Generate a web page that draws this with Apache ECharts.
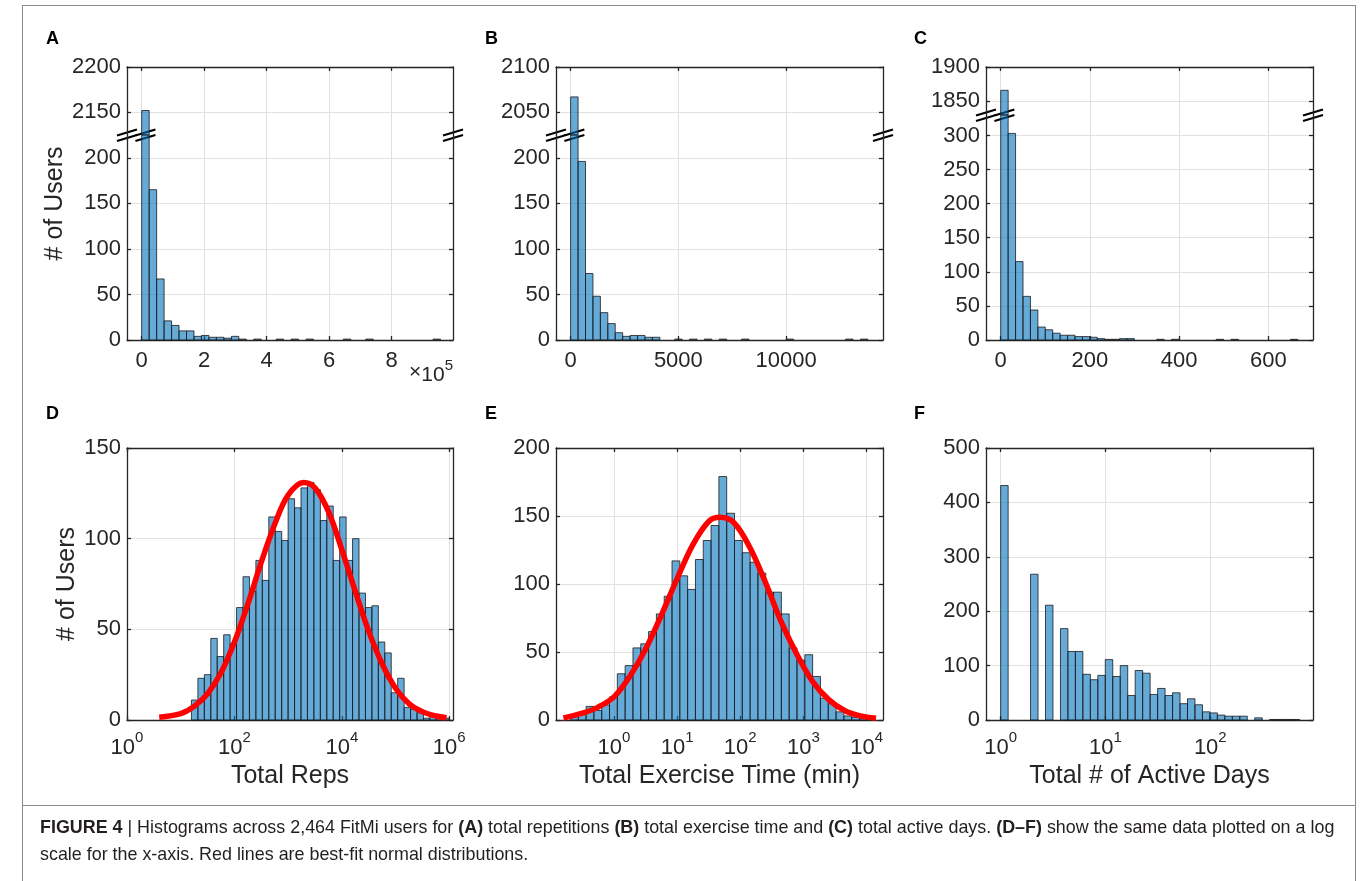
<!DOCTYPE html>
<html lang="en">
<head>
<meta charset="UTF-8">
<script src="https://cdn.jsdelivr.net/npm/echarts@6/dist/echarts.min.js"></script>
<style>
  body{margin:0;background:#fff;}
  #main{position:absolute;left:0;top:0;width:1360px;height:881px;}
  #frame{position:absolute;left:22px;top:5px;width:1332px;height:900px;border:1px solid #8a8a8a;border-bottom:none;}
  #sep{position:absolute;left:22px;top:805px;width:1334px;height:0;border-top:1px solid #8a8a8a;}
  #caption{position:absolute;left:40px;top:814px;font-family:'Liberation Sans',Arial,sans-serif;font-size:17.9px;line-height:27px;color:#231f20;white-space:nowrap;}
</style>
</head>
<body>
<div id="frame"></div>
<div id="sep"></div>
<div id="main"></div>
<div id="caption"><b>FIGURE 4</b> | Histograms across 2,464 FitMi users for <b>(A)</b> total repetitions <b>(B)</b> total exercise time and <b>(C)</b> total active days. <b>(D–F)</b> show the same data plotted on a log<br>scale for the x-axis. Red lines are best-fit normal distributions.</div>

<script>
  // ---- data ----
  // top row: linear bins starting at 0
  var repsBinWidth = 23900;
  var repsCounts = [2152,165,67,21,16,10,10,4,5,3,3,2,4,1,0,1,0,0,1,0,1,0,1,0,0,0,0,1,0,0,1,0,0,0,0,0,0,0,0,1];
  var timeBinWidth = 345;
  var timeCounts = [2067,196,73,48,30,18,8,4,5,5,3,3,0,0,1,0,1,0,1,0,1,0,0,1,0,0,0,0,0,1,0,0,0,0,0,0,0,1,0,1];
  var daysBinWidth = 16.65;
  var daysCounts = [1866,303,115,64,44,19,15,10,7,7,5,5,4,2,1,1,2,2,0,0,0,1,0,1,0,0,0,0,0,1,0,1,0,0,0,0,0,0,0,1];

  // bottom row: bins in log10 units
  var repsLogStart = 1.2, repsLogStep = 0.12;
  var repsLogCounts = [11,23,25,45,35,47,42,62,79,71,88,77,112,104,99,122,117,128,131,127,110,118,88,112,88,100,70,62,63,43,37,15,23,7,6,4,1,2,1,1];
  var timeLogStart = -0.689, timeLogStep = 0.1237;
  var timeLogCounts = [3,5,10,7,11,17,34,40,53,56,65,78,91,117,106,96,118,132,143,179,152,132,123,116,108,94,94,78,53,44,48,32,16,12,6,3,2,1,1];
  var daysLogStart = 0, daysLogStep = 0.0713;
  var daysLogCounts = [431,0,0,0,268,0,211,0,168,126,126,84,74,82,111,80,100,45,91,86,47,58,45,50,30,39,28,15,13,9,7,7,7,0,4,0,1,1,1,1];

  // red fitted curves (log10 x, users)
  var repsFitX = [0.6,1.0,1.25,1.5,1.75,2.0,2.25,2.5,2.75,3.0,3.29,3.5,3.75,4.0,4.25,4.5,4.75,5.0,5.25,5.5,5.75,5.95];
  var repsFitY = [1.5,3.5,7.5,14.5,26,43,64,87,108,124,131,128,115,94,71,49,31,17.5,9,4.5,2.2,1.3];
  var timeFitX = [-0.8,-0.5,-0.25,0,0.25,0.5,0.75,1.0,1.25,1.5,1.68,1.9,2.15,2.4,2.65,2.9,3.15,3.4,3.65,3.9,4.15];
  var timeFitY = [1.5,5,9.5,17,32,52,77,104,129,146,149,145,127,101,72,48,28,15,7,3,1.3];

  // axis ticks
  var repsTicks = [0,200000,400000,600000,800000];
  var timeTicks = [0,5000,10000];
  var daysTicks = [0,200,400,600];
  var usersTicksAB = [0,50,100,150,200];
  var usersTicksC = [0,50,100,150,200,250,300];
  var logTicksD = [0,2,4,6], logTicksE = [0,1,2,3,4], logTicksF = [0,1,2];

  var FONT = "'Liberation Sans', Arial, Helvetica, sans-serif";
  var INK = '#262626';
  var GRID_LINE = '#e1e1e1';
  var BAR_FILL = 'rgba(0,114,189,0.6)';
  var BAR_EDGE = '#1a1a1a';
  var TICK_FS = 22, NAME_FS = 25;

  var chart = echarts.init(document.getElementById('main'));

  var grids = [], xAxes = [], yAxes = [], series = [];
  var line = {color: INK, width: 1.3};
  var plain = function (v) { return String(v); };
  var pow10 = function (v) { return '{b|10}{s|' + v + '}'; };
  var powRich = {
    b: {fontSize: TICK_FS, lineHeight: 29, color: INK, fontFamily: FONT, verticalAlign: 'bottom'},
    s: {fontSize: 15, color: INK, fontFamily: FONT, verticalAlign: 'top'}
  };

  // one plot box = grid + bottom/top x axes + left/right y axes
  function addBox(rect, x, y) {
    var g = grids.length;
    grids.push(Object.assign({outerBoundsMode: 'none', containLabel: false}, rect));
    var xi = xAxes.length, yi = yAxes.length;
    xAxes.push({
      gridIndex: g, type: 'value', min: x.min, max: x.max, position: 'bottom',
      axisLine: {show: !!x.bottom, onZero: false, lineStyle: line},
      axisTick: {show: !!x.bottom, inside: true, length: 4, customValues: x.ticks, lineStyle: line},
      axisLabel: {show: !!x.bottom, margin: x.margin || 10, customValues: x.ticks, formatter: x.fmt || plain,
                  color: INK, fontSize: TICK_FS, rich: x.rich},
      splitLine: {show: true, lineStyle: {color: GRID_LINE, width: 1}},
      name: x.name, nameLocation: 'middle', nameGap: 44, nameTextStyle: {color: INK, fontSize: NAME_FS}
    });
    xAxes.push({
      gridIndex: g, type: 'value', min: x.min, max: x.max, position: 'top', show: !!x.top,
      axisLine: {show: true, onZero: false, lineStyle: line},
      axisTick: {show: true, inside: true, length: 4, customValues: x.ticks, lineStyle: line},
      axisLabel: {show: false}, splitLine: {show: false}
    });
    yAxes.push({
      gridIndex: g, type: 'value', min: y.min, max: y.max, position: 'left',
      axisLine: {show: true, onZero: false, lineStyle: line},
      axisTick: {show: true, inside: true, length: 4, customValues: y.ticks, lineStyle: line},
      axisLabel: {margin: 6, customValues: y.ticks, formatter: plain, color: INK, fontSize: TICK_FS},
      splitLine: {show: true, lineStyle: {color: GRID_LINE, width: 1}},
      name: y.name, nameLocation: 'middle', nameGap: y.nameGap, nameTextStyle: {color: INK, fontSize: NAME_FS}
    });
    yAxes.push({
      gridIndex: g, type: 'value', min: y.min, max: y.max, position: 'right',
      axisLine: {show: true, onZero: false, lineStyle: line},
      axisTick: {show: true, inside: true, length: 4, customValues: y.ticks, lineStyle: line},
      axisLabel: {show: false}, splitLine: {show: false}
    });
    return {grid: g, x: xi, y: yi, xr: [x.min, x.max]};
  }

  // invisible full-height box that only carries the y title of a broken panel
  function addTitleBox(rect, name, gap) {
    var g = grids.length;
    grids.push(Object.assign({outerBoundsMode: 'none', containLabel: false}, rect));
    xAxes.push({gridIndex: g, type: 'value', show: false});
    yAxes.push({gridIndex: g, type: 'value', name: name, nameLocation: 'middle', nameGap: gap,
      nameTextStyle: {color: INK, fontSize: NAME_FS},
      axisLine: {show: false}, axisTick: {show: false}, axisLabel: {show: false}, splitLine: {show: false}});
  }

  function clipRect(r, c) {
    var x = Math.max(r.x, c.x), x2 = Math.min(r.x + r.width, c.x + c.width);
    var y = Math.max(r.y, c.y), y2 = Math.min(r.y + r.height, c.y + c.height);
    if (x2 > x && y2 > y) return {x: x, y: y, width: x2 - x, height: y2 - y};
    return null;
  }

  function histogram(box, start, step, counts) {
    var data = counts.map(function (c, i) { return [start + i * step, start + (i + 1) * step, c]; });
    series.push({
      type: 'custom', xAxisIndex: box.x, yAxisIndex: box.y, data: data, silent: true,
      renderItem: function (params, api) {
        var c = api.value(2);
        if (!c) return null;
        var p0 = api.coord([api.value(0), c]);
        var p1 = api.coord([api.value(1), 0]);
        var cs = params.coordSys;
        var shape = clipRect({x: p0[0], y: p0[1], width: p1[0] - p0[0], height: p1[1] - p0[1]},
                             {x: cs.x, y: cs.y, width: cs.width, height: cs.height});
        if (!shape) return null;
        return {type: 'rect', shape: shape, style: {fill: BAR_FILL, stroke: BAR_EDGE, lineWidth: 0.8}};
      }
    });
  }

  function fitLine(box, xs, ys) {
    series.push({
      type: 'line', xAxisIndex: box.x, yAxisIndex: box.y, silent: true, z: 5,
      data: xs.map(function (x, i) { return [x, ys[i]]; }),
      smooth: 0.35, showSymbol: false, symbol: 'none',
      lineStyle: {color: '#ff0000', width: 5.5}
    });
  }

  // ---- top row (broken y axes) ----
  var topRow = 67;
  var A_up = addBox({left: 127, top: topRow, width: 326, height: 68},
    {min: -47000, max: 996000, ticks: repsTicks, top: true}, {min: 2125, max: 2200, ticks: [2150, 2200]});
  var A_lo = addBox({left: 127, top: 135, width: 326, height: 205},
    {min: -47000, max: 996000, ticks: repsTicks, bottom: true, fmt: function (v) { return String(v / 100000); }},
    {min: 0, max: 225, ticks: usersTicksAB});
  addTitleBox({left: 127, top: topRow, width: 326, height: 273}, '# of Users', 59);
  histogram(A_up, 0, repsBinWidth, repsCounts);
  histogram(A_lo, 0, repsBinWidth, repsCounts);

  var B_up = addBox({left: 556, top: topRow, width: 327, height: 68},
    {min: -680, max: 14500, ticks: timeTicks, top: true}, {min: 2025, max: 2100, ticks: [2050, 2100]});
  var B_lo = addBox({left: 556, top: 135, width: 327, height: 205},
    {min: -680, max: 14500, ticks: timeTicks, bottom: true}, {min: 0, max: 225, ticks: usersTicksAB});
  histogram(B_up, 0, timeBinWidth, timeCounts);
  histogram(B_lo, 0, timeBinWidth, timeCounts);

  var C_up = addBox({left: 986, top: topRow, width: 327, height: 48},
    {min: -33, max: 700, ticks: daysTicks, top: true}, {min: 1830, max: 1900, ticks: [1850, 1900]});
  var C_lo = addBox({left: 986, top: 115, width: 327, height: 225},
    {min: -33, max: 700, ticks: daysTicks, bottom: true}, {min: 0, max: 330, ticks: usersTicksC});
  histogram(C_up, 0, daysBinWidth, daysCounts);
  histogram(C_lo, 0, daysBinWidth, daysCounts);

  // ---- bottom row (log10 x) ----
  var D = addBox({left: 127, top: 448, width: 326, height: 272},
    {min: 0, max: 6.07, ticks: logTicksD, bottom: true, top: true, fmt: pow10, rich: powRich, margin: 10, name: 'Total Reps'},
    {min: 0, max: 150, ticks: [0, 50, 100, 150], name: '# of Users', nameGap: 47});
  histogram(D, repsLogStart, repsLogStep, repsLogCounts);
  fitLine(D, repsFitX, repsFitY);

  var E = addBox({left: 556, top: 448, width: 327, height: 272},
    {min: -0.918, max: 4.26, ticks: logTicksE, bottom: true, top: true, fmt: pow10, rich: powRich, margin: 10, name: 'Total Exercise Time (min)'},
    {min: 0, max: 200, ticks: [0, 50, 100, 150, 200]});
  histogram(E, timeLogStart, timeLogStep, timeLogCounts);
  fitLine(E, timeFitX, timeFitY);

  var F = addBox({left: 986, top: 448, width: 327, height: 272},
    {min: -0.14, max: 2.98, ticks: logTicksF, bottom: true, top: true, fmt: pow10, rich: powRich, margin: 10, name: 'Total # of Active Days'},
    {min: 0, max: 500, ticks: [0, 100, 200, 300, 400, 500]});
  histogram(F, daysLogStart, daysLogStep, daysLogCounts);

  var letters = [['A', 46, 30], ['B', 485, 30], ['C', 914, 30], ['D', 46, 405], ['E', 485, 405], ['F', 914, 405]];

  chart.setOption({
    animation: false,
    textStyle: {fontFamily: FONT},
    title: letters.map(function (l) {
      return {text: l[0], left: l[1], top: l[2], padding: 0,
              textStyle: {fontSize: 18, fontWeight: 'bold', color: '#000', fontFamily: FONT}};
    }),
    grid: grids,
    xAxis: xAxes,
    yAxis: yAxes,
    series: series
  });

  // ---- break marks and the x10^5 multiplier, placed through the axes ----
  function px(box, xy) { return chart.convertToPixel({xAxisIndex: box.x, yAxisIndex: box.y}, xy); }
  function breakMark(p) {
    return {type: 'group', x: p[0], y: p[1], silent: true, z: 50, children: [
      {type: 'polygon', shape: {points: [[-10, 1.5], [10, -4.5], [10, 0.5], [-10, 6.5]]}, style: {fill: '#fff'}},
      {type: 'line', shape: {x1: -10, y1: 0.5, x2: 10, y2: -5.5}, style: {stroke: '#000', lineWidth: 2.2}},
      {type: 'line', shape: {x1: -10, y1: 6, x2: 10, y2: 0}, style: {stroke: '#000', lineWidth: 2.2}}
    ]};
  }
  var marks = [];
  [[A_lo, 225, repsBinWidth], [B_lo, 225, timeBinWidth], [C_lo, 330, daysBinWidth]].forEach(function (b) {
    var box = b[0], yb = b[1];
    marks.push(breakMark(px(box, [box.xr[0], yb])));
    marks.push(breakMark(px(box, [b[2] / 2, yb])));
    marks.push(breakMark(px(box, [box.xr[1], yb])));
  });
  var corner = px(A_lo, [A_lo.xr[1], 0]);
  marks.push({
    type: 'text', x: corner[0], y: corner[1] + 18, silent: true,
    style: {text: '×{b|10}{s|5}', align: 'right', verticalAlign: 'top', fill: INK, font: '21px ' + FONT,
            rich: {b: {fontSize: 21, lineHeight: 28, fill: INK, fontFamily: FONT, verticalAlign: 'bottom'},
                   s: {fontSize: 15, fill: INK, fontFamily: FONT, verticalAlign: 'top'}}}
  });
  chart.setOption({graphic: marks});
</script>
</body>
</html>
